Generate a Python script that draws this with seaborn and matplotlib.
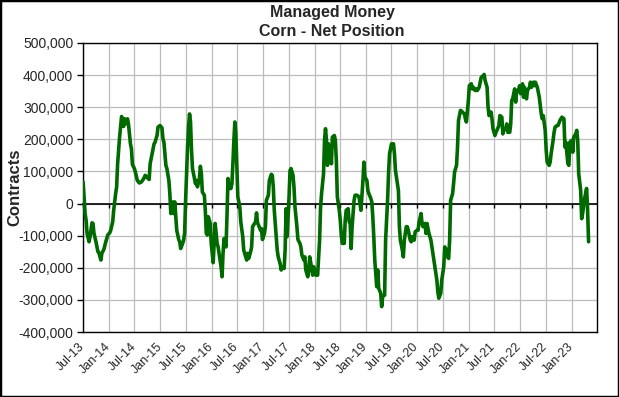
import numpy as np
import pandas as pd
import matplotlib
matplotlib.use("Agg")
import matplotlib.pyplot as plt
import matplotlib.dates as mdates
import matplotlib.transforms as mtransforms
from matplotlib.ticker import FuncFormatter, MultipleLocator
from matplotlib.patches import Rectangle
import seaborn as sns

# ---- data (weekly COT report, managed money net position, corn) ----
first_report = "2013-07-02"
week = [0, 2, 3, 4, 6, 7, 9, 10, 11, 13, 15, 16, 18, 19, 21, 23, 25, 27, 28, 30,
        31, 33, 34, 35, 37, 38, 39, 40, 41, 42, 43, 45, 46, 48, 49, 50, 52, 53, 55, 57,
        59, 61, 63, 65, 67, 68, 70, 72, 73, 75, 76, 78, 80, 81, 82, 84, 85, 87, 88, 89,
        91, 92, 93, 94, 95, 97, 98, 99, 101, 102, 103, 104, 105, 106, 107, 108, 109, 110, 111, 113,
        114, 115, 116, 118, 119, 120, 121, 123, 124, 125, 126, 127, 129, 130, 132, 133, 134, 136, 137, 138,
        140, 141, 142, 143, 145, 146, 147, 148, 150, 151, 152, 153, 154, 155, 156, 157, 159, 160, 162, 163,
        164, 166, 167, 168, 170, 171, 172, 173, 175, 176, 177, 178, 180, 181, 182, 184, 185, 186, 188, 189,
        191, 192, 193, 194, 196, 197, 198, 200, 201, 202, 204, 205, 206, 207, 209, 210, 211, 213, 214, 215,
        217, 218, 220, 221, 222, 224, 225, 226, 228, 229, 230, 232, 233, 234, 236, 237, 238, 240, 241, 242,
        244, 245, 246, 247, 248, 249, 250, 251, 252, 253, 255, 256, 257, 258, 260, 261, 262, 263, 265, 266,
        267, 269, 270, 271, 272, 273, 275, 276, 278, 280, 281, 282, 284, 285, 286, 288, 289, 290, 292, 293,
        294, 295, 296, 298, 299, 300, 302, 303, 304, 306, 307, 309, 310, 311, 313, 315, 316, 317, 319, 320,
        321, 322, 324, 325, 326, 328, 329, 330, 332, 333, 334, 336, 337, 339, 340, 341, 343, 344, 345, 347,
        348, 349, 351, 352, 353, 355, 356, 357, 359, 360, 361, 363, 364, 366, 367, 368, 370, 371, 372, 373,
        375, 376, 377, 379, 380, 381, 383, 384, 385, 387, 388, 389, 391, 392, 394, 395, 396, 398, 399, 400,
        402, 403, 404, 406, 407, 408, 410, 411, 412, 414, 415, 416, 418, 419, 420, 422, 423, 425, 426, 427,
        429, 430, 431, 433, 434, 435, 436, 438, 439, 440, 442, 443, 444, 446, 447, 448, 450, 451, 453, 454,
        455, 457, 458, 459, 461, 462, 463, 465, 466, 467, 469, 470, 471, 473, 474, 475, 477, 478, 479, 481,
        482, 484, 485, 486, 488, 489, 490, 492, 493, 494, 496, 497, 498, 500, 501, 502, 503, 505, 506, 507,
        509, 510, 511, 512, 513]
net_position = [
    67000, -31000, -52000, -93000, -119000, -103000, -60000, -62000, -93000, -119000,
    -150000, -153000, -176000, -155000, -143000, -119000, -98000, -91000, -83000, -57000,
    -21000, 31000, 52000, 124000, 207000, 238000, 271000, 264000, 240000, 264000,
    248000, 264000, 248000, 186000, 171000, 122000, 109000, 98000, 72000, 64000,
    67000, 75000, 88000, 81000, 75000, 124000, 155000, 186000, 191000, 212000,
    238000, 243000, 236000, 202000, 191000, 119000, 109000, 72000, 31000, -31000,
    5000, -31000, 5000, -41000, -83000, -112000, -119000, -140000, -124000, -114000,
    -93000, 10000, 93000, 176000, 238000, 279000, 254000, 166000, 109000, 78000,
    62000, 72000, 52000, 78000, 116000, 93000, 36000, 26000, -21000, -93000,
    -98000, -41000, -62000, -124000, -184000, -124000, -62000, -124000, -135000, -155000,
    -197000, -228000, -155000, -109000, -135000, -41000, 78000, 47000, 47000, 62000,
    124000, 197000, 254000, 217000, 114000, 21000, -10000, -57000, -103000, -145000,
    -155000, -176000, -155000, -171000, -150000, -135000, -72000, -67000, -57000, -29000,
    -60000, -67000, -83000, -78000, -112000, -93000, -72000, 10000, 26000, 72000,
    91000, 88000, 52000, -21000, -103000, -145000, -166000, -188000, -207000, -197000,
    -202000, -145000, -16000, -103000, 21000, 103000, 109000, 88000, 52000, -10000,
    -72000, -112000, -124000, -135000, -160000, -176000, -166000, -207000, -228000, -207000,
    -166000, -202000, -223000, -197000, -223000, -217000, -223000, -114000, -10000, 31000,
    93000, 197000, 233000, 197000, 119000, 186000, 129000, 166000, 124000, 207000,
    212000, 197000, 134000, 21000, -21000, -52000, -98000, -124000, -124000, -52000,
    -21000, -16000, -57000, -60000, -140000, -72000, 10000, 26000, 26000, 21000,
    0, -21000, 72000, 129000, 83000, 72000, 41000, 31000, 16000, 5000,
    -41000, -103000, -176000, -259000, -207000, -264000, -279000, -321000, -290000, -285000,
    -114000, 10000, 93000, 155000, 186000, 186000, 155000, 103000, 62000, 41000,
    -72000, -114000, -145000, -166000, -114000, -72000, -72000, -83000, -114000, -119000,
    -103000, -114000, -88000, -83000, -83000, -57000, -31000, -62000, -72000, -62000,
    -93000, -62000, -93000, -103000, -114000, -155000, -176000, -197000, -238000, -274000,
    -295000, -279000, -238000, -197000, -135000, -140000, -166000, -171000, -114000, 10000,
    31000, 62000, 98000, 119000, 176000, 259000, 290000, 288000, 285000, 279000,
    264000, 254000, 321000, 367000, 373000, 357000, 362000, 352000, 357000, 352000,
    362000, 378000, 393000, 398000, 402000, 383000, 362000, 300000, 274000, 285000,
    264000, 233000, 212000, 222000, 228000, 243000, 274000, 269000, 217000, 228000,
    233000, 248000, 222000, 222000, 248000, 321000, 326000, 357000, 316000, 352000,
    352000, 367000, 342000, 373000, 331000, 362000, 326000, 352000, 362000, 378000,
    362000, 378000, 367000, 378000, 362000, 347000, 331000, 279000, 264000, 274000,
    228000, 166000, 129000, 119000, 129000, 155000, 197000, 222000, 238000, 243000,
    243000, 259000, 264000, 269000, 264000, 176000, 191000, 124000, 119000, 191000,
    197000, 160000, 207000, 217000, 228000, 197000, 93000, 41000, -47000, -31000,
    16000, 31000, 47000, -16000, -119000]

title_lines = ["Managed Money", "Corn - Net Position"]
y_label = "Contracts"
x_start, x_end = "2013-07-01", "2023-07-01"
tick_start, tick_end = "2013-07-01", "2023-01-01"
y_min, y_max, y_step = -400000, 500000, 100000

# ---- build frame ----
df = pd.DataFrame({
    "date": pd.to_datetime(first_report) + pd.to_timedelta(np.array(week) * 7, unit="D"),
    "net": net_position,
})

sns.set_style("white")
plt.rcParams["font.family"] = ["Liberation Sans", "DejaVu Sans"]

W, H = 619, 397
fig = plt.figure(figsize=(W / 100, H / 100), dpi=100)
fig.patch.set_facecolor("white")
ax = fig.add_axes([83 / W, 1 - 332 / H, (597 - 83) / W, (332 - 43) / H])

sns.lineplot(data=df, x="date", y="net", ax=ax, color="#006a00", lw=2.6,
             estimator=None, sort=False, zorder=3)

ax.set_xlim(pd.Timestamp(x_start), pd.Timestamp(x_end))
ax.set_ylim(y_min, y_max)
ax.yaxis.set_major_locator(MultipleLocator(y_step))
ax.yaxis.set_major_formatter(FuncFormatter(lambda v, p: f"{v:,.0f}"))

ticks = pd.date_range(tick_start, tick_end, freq="6MS")
ax.set_xticks(ticks)
ax.set_xticklabels([t.strftime("%b-%y") for t in ticks], rotation=45,
                   ha="right", va="center", rotation_mode="anchor")
shift = mtransforms.ScaledTranslation(3 / 100, 0, fig.dpi_scale_trans)
for lbl in ax.get_xticklabels():
    lbl.set_transform(lbl.get_transform() + shift)

ax.grid(True, color="#bdbdbd", lw=0.9)
ax.set_axisbelow(True)
for s in ax.spines.values():
    s.set_color("black")
    s.set_linewidth(1.0)
    s.set_visible(True)

ax.tick_params(axis="y", direction="out", length=4, width=1, color="black",
               labelsize=10, pad=3, left=True)
ax.tick_params(axis="x", length=0, labelsize=9, pad=9)
ax.set_xlabel("")
ax.set_ylabel("")

# zero axis line with category tick marks
zero_frac = (0 - y_min) / (y_max - y_min)
sec = ax.secondary_xaxis(zero_frac)
sec.set_xticks(mdates.date2num(ticks))
sec.tick_params(axis="x", direction="out", length=3, width=1, color="black",
                labelbottom=False, labeltop=False)
for s in sec.spines.values():
    s.set_color("black")
    s.set_linewidth(1.2)
sec.set_zorder(1.8)

fig.text(332 / W, 1 - 5 / H, "\n".join(title_lines), ha="center", va="top",
         fontsize=11.5, fontweight="bold", linespacing=1.3)
fig.text(15 / W, 1 - 187 / H, y_label, rotation=90, ha="center", va="center",
         fontsize=12, fontweight="bold")

fig.patches.append(Rectangle((0, 0), 1, 1, transform=fig.transFigure, fill=False,
                             ec="black", lw=2.5))

fig.savefig("out.png", dpi=100)
